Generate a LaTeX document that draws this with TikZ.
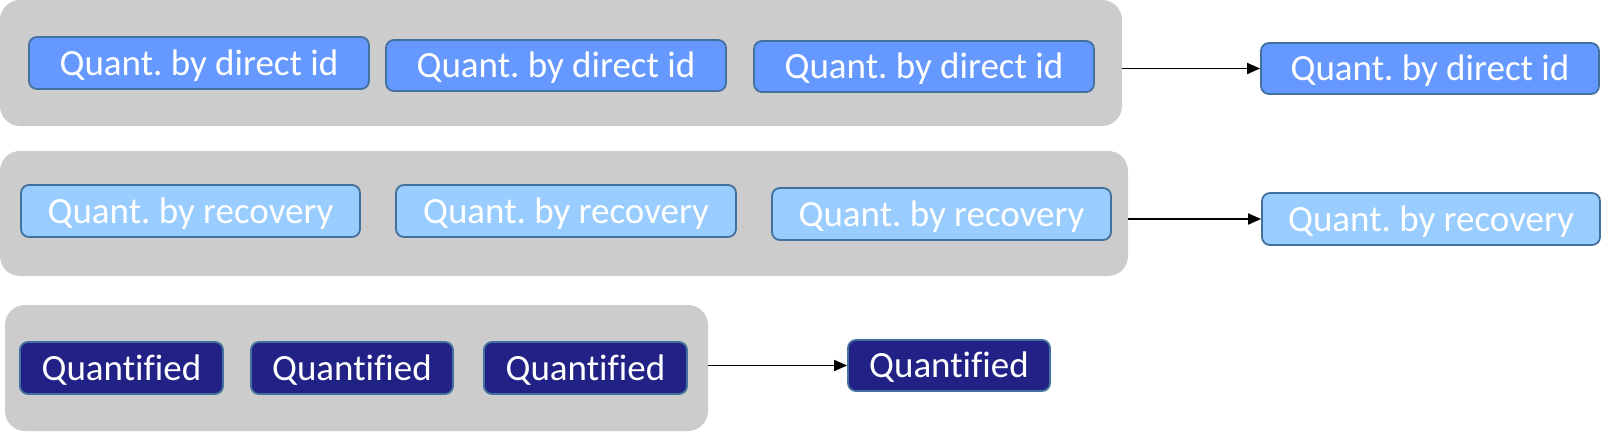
\documentclass[tikz,border=0pt]{standalone}
\usepackage{fontspec}
\setmainfont{Carlito}[Ligatures={NoCommon}]
\frenchspacing
\usetikzlibrary{arrows.meta}
\definecolor{grp}{HTML}{CCCCCC}
\definecolor{edge}{HTML}{41719C}
\definecolor{direct}{HTML}{6699FF}
\definecolor{recov}{HTML}{99CCFF}
\definecolor{quant}{HTML}{212186}
\newcommand{\qtxt}{Quantif\kern0pt ied}
\tikzset{
  group/.style={fill=grp, draw=none, rounded corners=20pt, inner sep=0pt},
  box/.style={draw=edge, line width=1.8pt, rounded corners=8pt, inner sep=0pt,
    text=white, font=\fontsize{37}{44}\selectfont\frenchspacing, text height=24pt, text depth=0pt},
  dbox/.style={box, fill=direct},
  rbox/.style={box, fill=recov},
  qbox/.style={box, fill=quant},
  conn/.style={line width=1.8pt, -{Triangle[length=13pt,width=11pt]}}
}
\begin{document}
\begin{tikzpicture}[x=1pt,y=-1pt]
\useasboundingbox (0,0) rectangle (1602,431);
% groups
\node[group, minimum width=1122pt, minimum height=126pt] (g1) at (561,63) {};
\node[group, minimum width=1128pt, minimum height=125pt] (g2) at (564,213.5) {};
\node[group, minimum width=703pt, minimum height=126pt] (g3) at (356.5,368) {};
% row 1
\node[dbox, minimum width=340pt, minimum height=52pt] (a1) at (199,63) {Quant. by direct id};
\node[dbox, minimum width=340pt, minimum height=51pt] (a2) at (556,65.5) {Quant. by direct id};
\node[dbox, minimum width=340pt, minimum height=51pt] (a3) at (924,66.5) {Quant. by direct id};
\node[dbox, minimum width=338pt, minimum height=51pt] (ao) at (1430,68.5) {Quant. by direct id};
% row 2
\node[rbox, minimum width=339pt, minimum height=52pt] (b1) at (190.5,211) {Quant. by recovery};
\node[rbox, minimum width=340pt, minimum height=52pt] (b2) at (566,211) {Quant. by recovery};
\node[rbox, minimum width=339pt, minimum height=52pt] (b3) at (941.5,214) {Quant. by recovery};
\node[rbox, minimum width=338pt, minimum height=52pt] (bo) at (1431,219) {Quant. by recovery};
% row 3
\node[qbox, minimum width=203pt, minimum height=52pt] (c1) at (121.5,368) {\qtxt};
\node[qbox, minimum width=202pt, minimum height=52pt] (c2) at (352,368) {\qtxt};
\node[qbox, minimum width=203pt, minimum height=52pt] (c3) at (585.5,368) {\qtxt};
\node[qbox, minimum width=202pt, minimum height=51pt] (co) at (949,365.5) {\qtxt};
% connectors
\draw[conn] (ao.west -| g1.east) -- (ao.west);
\draw[conn] (bo.west -| g2.east) -- (bo.west);
\draw[conn] (co.west -| g3.east) -- (co.west);
\end{tikzpicture}
\end{document}
